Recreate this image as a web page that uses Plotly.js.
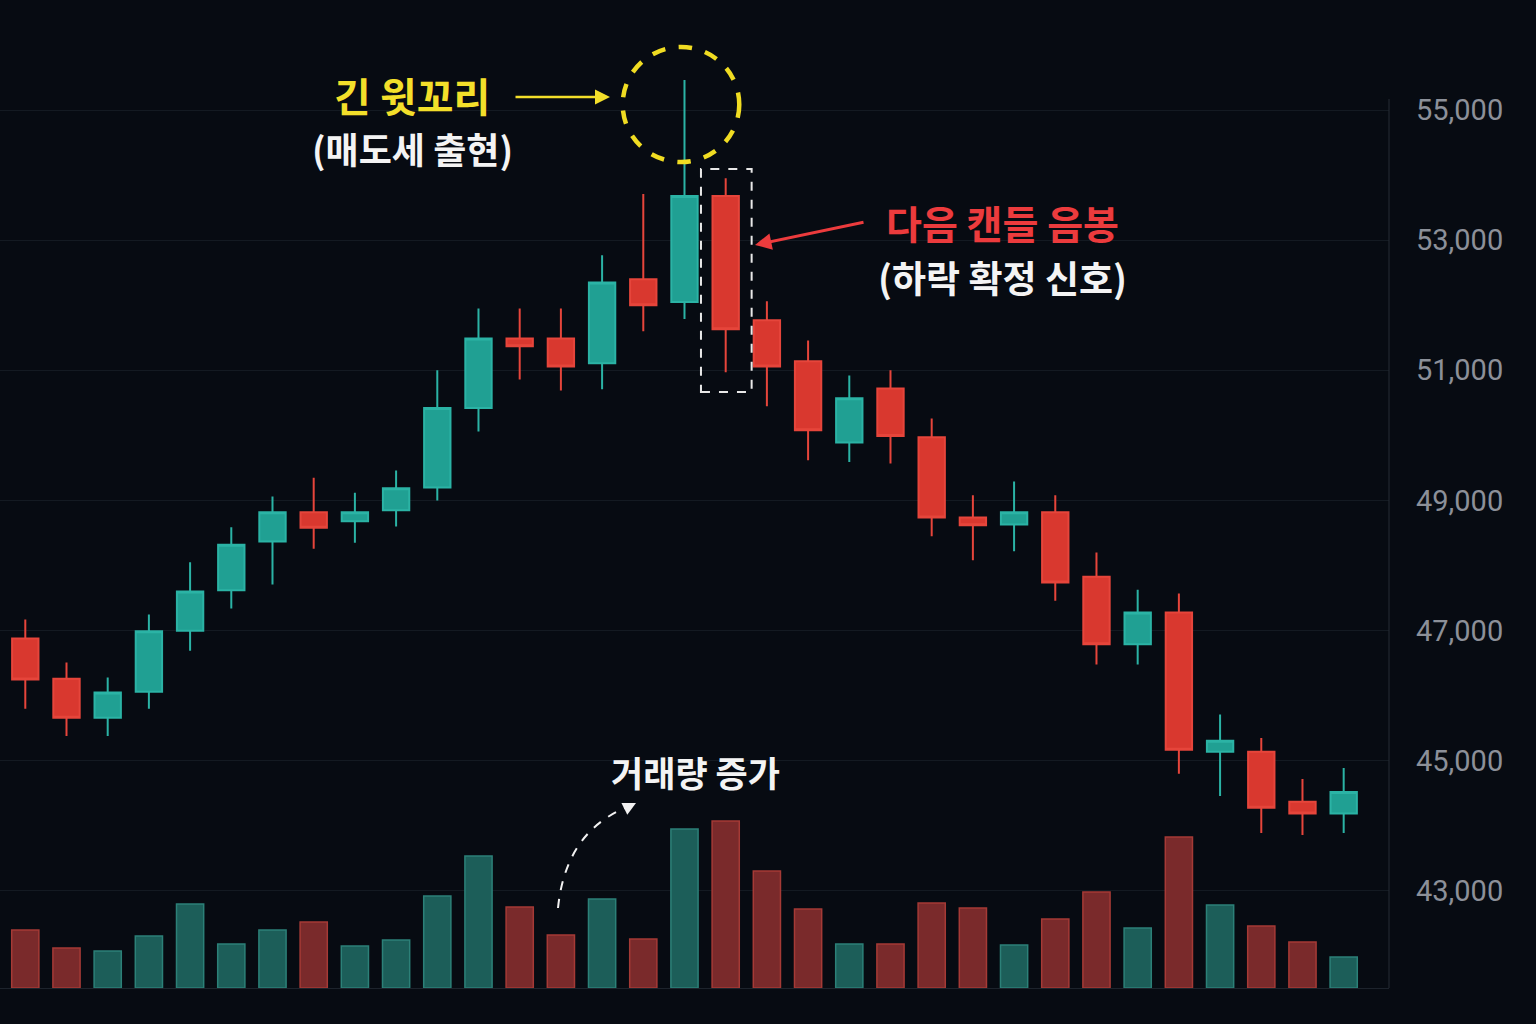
<!DOCTYPE html>
<html>
<head>
<meta charset="utf-8">
<script src="https://cdn.plot.ly/plotly-3.0.1.min.js"></script>
<style>
  html, body { margin: 0; padding: 0; background: #070b12; }
  #chart { width: 1536px; height: 1024px; }
</style>
</head>
<body>
<div id="chart"></div>
<script>
// ---- data ----
const days = [1,2,3,4,5,6,7,8,9,10,11,12,13,14,15,16,17,18,19,20,21,22,23,24,25,26,27,28,29,30,31,32,33];
const openP  = [46880,46260,45660,46060,47000,47620,48370,48820,48680,48850,49200,50420,51490,51490,51110,52400,52050,53680,51770,51140,49890,50720,49970,48740,48630,48820,47830,46790,47280,45140,45140,44370,44190];
const highP  = [47170,46510,46280,47250,48050,48590,49060,49350,49120,49460,51000,51950,51950,51950,52770,53710,55460,53950,52060,51460,50920,51000,50260,49080,49290,49080,48200,47630,47570,45710,45350,44720,44890];
const lowP   = [45800,45380,45380,45800,46690,47340,47710,48260,48350,48600,49000,50060,50860,50690,50710,51600,51790,50970,50450,49620,49590,49570,48450,48080,48220,47460,46480,46480,44800,44460,43890,43860,43890];
const closeP = [46250,45660,46050,46990,47600,48320,48820,48580,48820,49190,50420,51490,51370,51060,52350,52000,53680,51630,51060,50080,50570,49990,48740,48620,48820,47740,46790,47280,45170,45310,44280,44190,44520];
const volume = [580,400,370,520,840,440,580,660,420,480,920,1320,810,530,890,490,1590,1670,1170,790,440,440,850,800,430,690,960,600,1510,830,620,460,310];
const priceTicks = [43000,45000,47000,49000,51000,53000,55000];
const priceTickText = ['43,000','45,000','47,000','49,000','51,000','53,000','55,000'];

const UP = '#20a093', DOWN = '#d9382f';
const volFill = openP.map((o,i) => closeP[i] >= o ? '#1c5e59' : '#7a2a2b');
const volLine = openP.map((o,i) => closeP[i] >= o ? '#2c8078' : '#a53a36');

const xs = days.map((d) => d - 1);
const wickIdx = 16;   // long upper wick candle
const nextIdx = 17;   // following bearish candle

const traces = [
  {
    type: 'bar', x: xs, y: volume, yaxis: 'y2',
    marker: { color: volFill, line: { color: volLine, width: 1.5 } },
    hoverinfo: 'skip', showlegend: false
  },
  {
    type: 'candlestick', x: xs, open: openP, high: highP, low: lowP, close: closeP,
    increasing: { line: { color: '#2bb3a5', width: 2 }, fillcolor: UP },
    decreasing: { line: { color: '#e6453b', width: 2 }, fillcolor: DOWN },
    whiskerwidth: 0,
    hoverinfo: 'skip', showlegend: false
  }
];

// pixel helpers for decoration (plot area: x 0..1389, y 40..988)
const PW = 1389, PT = 40, PB = 988, PH = PB - PT;
const px = (v) => v / PW;
const py = (v) => (PB - v) / PH;

const KR = '"Noto Sans CJK KR", "Noto Sans", sans-serif';

const layout = {
  width: 1536, height: 1024,
  paper_bgcolor: '#070b12', plot_bgcolor: '#070b12',
  margin: { l: 0, r: 147, t: PT, b: 36 },
  showlegend: false,
  bargap: 0.34,
  boxgap: 0.36, boxgroupgap: 0,
  hovermode: false,
  xaxis: {
    range: [-0.614, 33.10], showticklabels: false, showgrid: false, zeroline: false,
    showline: true, linecolor: '#1d232c', linewidth: 1,
    rangeslider: { visible: false }, fixedrange: true
  },
  yaxis: {
    side: 'right', range: [41509, 56076],
    tickvals: priceTicks, ticktext: priceTickText,
    tickfont: { family: 'Roboto, "Liberation Sans", sans-serif', size: 29, color: '#8c9099' },
    ticks: '', ticklabelstandoff: 26,
    showgrid: true, gridcolor: '#141a22', gridwidth: 1, zeroline: false,
    showline: false, fixedrange: true
  },
  yaxis2: {
    overlaying: 'y', side: 'left', range: [0, 9480], visible: false, fixedrange: true
  },
  shapes: [
    // right axis line (starts just above the top tick)
    { type: 'line', xref: 'paper', yref: 'paper', x0: 1, x1: 1, y0: 0, y1: py(99),
      line: { color: '#262c35', width: 1 } },
    // yellow dashed circle around the long upper wick
    { type: 'circle', xref: 'x', yref: 'paper',
      x0: wickIdx - 1.5, x1: wickIdx + 1.33, y0: py(162), y1: py(47),
      line: { color: '#f0dc22', width: 4.5, dash: 'dash' } },
    // white dashed box around the next (bearish) candle
    { type: 'rect', xref: 'x', yref: 'paper',
      x0: nextIdx - 0.6, x1: nextIdx + 0.63, y0: py(392), y1: py(169),
      line: { color: '#e8e8e8', width: 2, dash: 'dash' } },
    // curved dashed arrow toward volume label
    { type: 'path', xref: 'paper', yref: 'paper',
      path: `M ${px(558)} ${py(908)} Q ${px(566)} ${py(830)} ${px(630)} ${py(806)}`,
      line: { color: '#f2f2f2', width: 2, dash: 'dash' } }
  ],
  annotations: [
    { xref: 'paper', yref: 'paper', x: px(412), y: py(95), xanchor: 'center', yanchor: 'middle',
      text: '<b>긴 윗꼬리</b>',
      showarrow: false, font: { family: KR, size: 40, color: '#f3df2a' } },
    { xref: 'paper', yref: 'paper', x: px(412), y: py(148), xanchor: 'center', yanchor: 'middle',
      text: '<b>(매도세 출현)</b>',
      showarrow: false, font: { family: KR, size: 36, color: '#f4f4f4' } },
    { xref: 'paper', yref: 'paper', x: px(610), y: py(97), text: '',
      showarrow: true, ax: -96, ay: 0, arrowhead: 2, arrowsize: 1.2, arrowwidth: 2.5,
      arrowcolor: '#f3df2a', standoff: 0 },
    { xref: 'paper', yref: 'paper', x: px(1002), y: py(222), xanchor: 'center', yanchor: 'middle',
      text: '<b>다음 캔들 음봉</b>',
      showarrow: false, font: { family: KR, size: 39, color: '#ec3b3d' } },
    { xref: 'paper', yref: 'paper', x: px(1002), y: py(277), xanchor: 'center', yanchor: 'middle',
      text: '<b>(하락 확정 신호)</b>',
      showarrow: false, font: { family: KR, size: 37, color: '#f4f4f4' } },
    { xref: 'paper', yref: 'paper', x: px(755), y: py(245), text: '',
      showarrow: true, ax: 110, ay: -23, arrowhead: 2, arrowsize: 1.1, arrowwidth: 3,
      arrowcolor: '#ec3b3d', standoff: 0 },
    { xref: 'paper', yref: 'paper', x: px(696), y: py(771), xanchor: 'center', yanchor: 'middle',
      text: '<b>거래량 증가</b>',
      showarrow: false, font: { family: KR, size: 35, color: '#f4f4f4' } },
    { xref: 'paper', yref: 'paper', x: px(636), y: py(803), text: '',
      showarrow: true, ax: -12, ay: 6, arrowhead: 2, arrowsize: 1.3, arrowwidth: 2,
      arrowcolor: '#f2f2f2', standoff: 0 }
  ]
};

Plotly.newPlot('chart', traces, layout, { displayModeBar: false, staticPlot: true });
</script>
</body>
</html>
